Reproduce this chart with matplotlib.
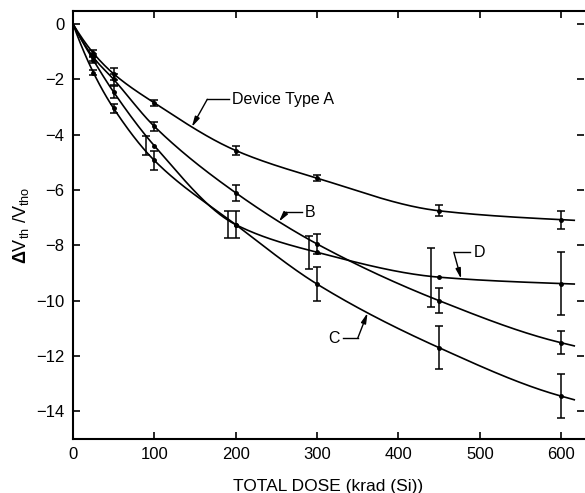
#!/usr/bin/env python3
"""Threshold voltage shift vs total dose for device types A-D."""

import numpy as np
import matplotlib
matplotlib.use("Agg")
import matplotlib.pyplot as plt

plt.rcParams["font.family"] = ["Liberation Sans", "DejaVu Sans"]
plt.rcParams["mathtext.fontset"] = "custom"
plt.rcParams["mathtext.rm"] = "Liberation Sans"
plt.rcParams["mathtext.bf"] = "Liberation Sans:bold"

# dose points (krad(Si))
dose = [0, 25, 50, 100, 200, 300, 450, 600]

# delta Vth / Vtho per device type
type_a = [0, -1.05, -1.8, -2.85, -4.57, -5.57, -6.75, -7.07]
type_b = [0, -1.2, -2.0, -3.7, -6.1, -7.95, -10.0, -11.52]
type_c = [0, -1.75, -3.05, -4.93, -7.25, -9.4, -11.7, -13.45]
type_d = [0, -1.3, -2.46, -4.4, -7.25, -8.25, -9.15, -9.38]

err_a = [0, 0.12, 0.22, 0.12, 0.16, 0.12, 0.2, 0.33]
err_b = [0, 0.12, 0.2, 0.15, 0.28, 0.35, 0.45, 0.42]
err_c = [0, 0.1, 0.15, 0.35, 0.5, 0.62, 0.78, 0.8]
err_d = [0, 0.1, 0.22, 0.35, 0.5, 0.6, 1.07, 1.15]

# type D bars are drawn a bit to the left of the dose point
dose_d_bar = [0, 25, 50, 90, 190, 290, 440, 600]

x_max = 628
curve_end = 616


def pchip(x, y, xs):
    """monotone cubic through the points, straight extension past the last one"""
    x = np.asarray(x, float)
    y = np.asarray(y, float)
    xs = np.atleast_1d(np.asarray(xs, float))
    h = np.diff(x)
    d = np.diff(y) / h
    m = np.zeros_like(y)
    for k in range(1, len(x) - 1):
        if d[k - 1] * d[k] > 0:
            w1 = 2 * h[k] + h[k - 1]
            w2 = h[k] + 2 * h[k - 1]
            m[k] = (w1 + w2) / (w1 / d[k - 1] + w2 / d[k])
    m[0] = d[0] * 1.15
    m[-1] = d[-1] * 0.7
    out = np.empty_like(xs)
    for i, xv in enumerate(xs):
        if xv >= x[-1]:
            out[i] = y[-1] + m[-1] * (xv - x[-1])
            continue
        k = min(np.searchsorted(x, xv, side="right") - 1, len(x) - 2)
        t = (xv - x[k]) / h[k]
        h00 = 2 * t**3 - 3 * t**2 + 1
        h10 = t**3 - 2 * t**2 + t
        h01 = -2 * t**3 + 3 * t**2
        h11 = t**3 - t**2
        out[i] = h00 * y[k] + h10 * h[k] * m[k] + h01 * y[k + 1] + h11 * h[k] * m[k + 1]
    return out


fig = plt.figure(figsize=(5.85, 4.93), dpi=100)
ax = fig.add_axes([0.1248, 0.1095, 0.8735, 0.868])

xs = np.linspace(0, curve_end, 400)
series = [
    (type_a, err_a, dose),
    (type_b, err_b, dose),
    (type_c, err_c, dose),
    (type_d, err_d, dose_d_bar),
]
for vals, errs, bar_x in series:
    ax.plot(xs, pchip(dose, vals, xs), color="black", lw=1.2)
    ax.plot(dose[1:], vals[1:], "o", color="black", ms=2.5)
    ax.errorbar(bar_x[1:], vals[1:], yerr=errs[1:], fmt="none",
                ecolor="black", elinewidth=1.1, capsize=3, capthick=1.1)

# curve labels with leader arrows: (text, curve, text pos, kink x, arrow tip x)
labels = [
    ("Device Type A", type_a, (196, -2.72), 165, 146),
    ("B", type_b, (285, -6.8), 262, 253),
    ("D", type_d, (492, -8.25), 468, 477),
    ("C", type_c, (328, -11.35), 350, 362),
]
for text, vals, tpos, kink_x, tip_x in labels:
    ha = "left" if tpos[0] > kink_x else "right"
    ax.text(tpos[0], tpos[1], text, fontsize=11.5, ha=ha, va="center")
    lead_x = tpos[0] - 4 if ha == "left" else tpos[0] + 4
    ax.plot([lead_x, kink_x], [tpos[1], tpos[1]], color="black", lw=1.0)
    tip = (tip_x, pchip(dose, vals, [tip_x])[0])
    ax.annotate("", xy=tip, xytext=(kink_x, tpos[1]),
                arrowprops=dict(arrowstyle="-|>,head_length=0.6,head_width=0.15",
                                color="black", lw=1.0, shrinkA=0, shrinkB=0))

ax.set_xlim(0, x_max)
ax.set_ylim(-15, 0.47)
ax.set_xticks([0, 100, 200, 300, 400, 500, 600])
ax.set_yticks([0, -2, -4, -6, -8, -10, -12, -14])
ax.set_yticklabels(["0", "\u22122", "\u22124", "\u22126", "\u22128",
                    "\u221210", "\u221212", "\u221214"])
ax.tick_params(direction="in", length=5, width=1.2, labelsize=12,
               top=True, right=True, pad=6)
for side in ["left", "bottom", "top"]:
    ax.spines[side].set_linewidth(1.5)
ax.spines["right"].set_visible(False)

ax.set_xlabel("TOTAL DOSE (krad (Si))", fontsize=12.5, labelpad=12)
ax.set_ylabel(r"$\mathbf{\Delta}$V$_{\rm th}$ /V$_{\rm tho}$", fontsize=13, labelpad=4)

fig.savefig("out.png", dpi=100)
